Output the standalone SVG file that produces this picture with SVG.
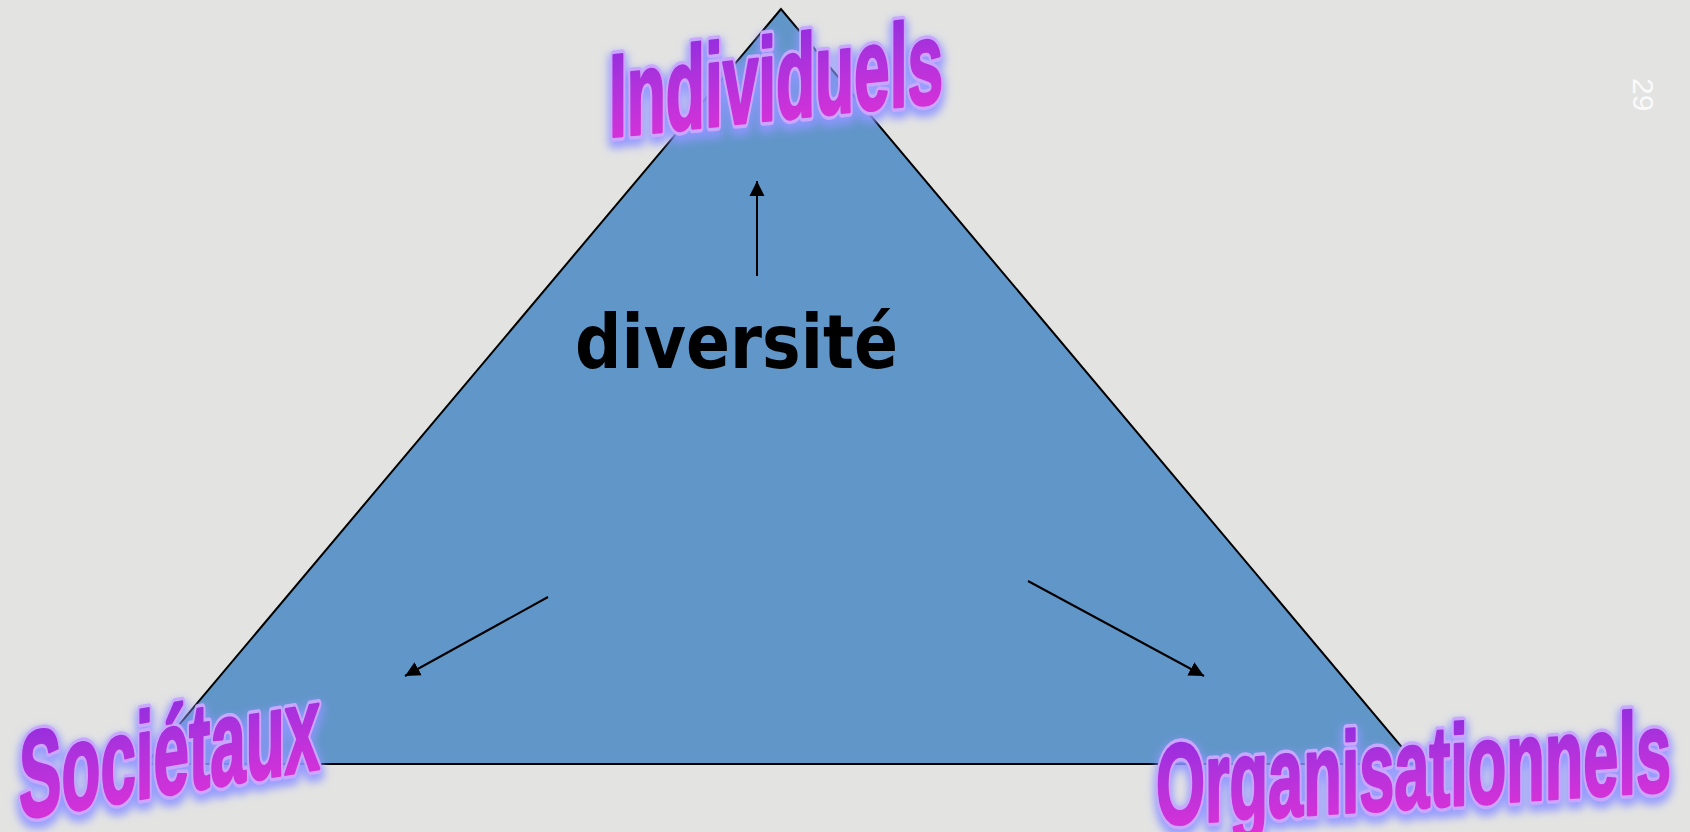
<svg xmlns="http://www.w3.org/2000/svg" width="1690" height="832" viewBox="0 0 1690 832">
<style>
.conn{stroke:#000;stroke-width:2;fill:none;marker-end:url(#ah)}
.wa{font-family:"Liberation Sans",Arial,sans-serif;font-weight:bold;stroke-linejoin:round}
.ol{fill:#c9a6ff;stroke:#c9a6ff;stroke-width:6.5}
.fl{fill:url(#wag);stroke:url(#wag);stroke-width:2}
.lbl{font-family:"DejaVu Sans",Verdana,sans-serif;font-weight:bold;fill:#000}
</style>
<defs>
<marker id="ah" markerUnits="userSpaceOnUse" markerWidth="16" markerHeight="16" viewBox="0 0 16 16" refX="15" refY="8" orient="auto">
<path d="M0,0.5 L15,8 L0,15.5 z" fill="#000"/>
</marker>
<linearGradient id="wag" x1="0" y1="0" x2="0" y2="1">
<stop offset="0" stop-color="#8a2ee0"/>
<stop offset="1" stop-color="#e233d6"/>
</linearGradient>
<filter id="glow" x="-10%" y="-30%" width="120%" height="160%">
<feMorphology in="SourceAlpha" operator="dilate" radius="2" result="d"/>
<feGaussianBlur in="d" stdDeviation="4.5" result="b"/>
<feOffset in="b" dy="5" result="o"/>
<feFlood flood-color="#8f96ff" flood-opacity="0.9"/>
<feComposite in2="o" operator="in" result="g"/>
<feMerge><feMergeNode in="g"/><feMergeNode in="SourceGraphic"/></feMerge>
</filter>
<text id="t-ind" class="wa" transform="translate(609,137) skewY(-6) scale(1,1.55)" x="0" y="0" font-size="76" textLength="334" lengthAdjust="spacingAndGlyphs">Individuels</text>
<text id="t-soc" class="wa" transform="translate(19,819) skewY(-9.5) scale(1,1.55)" x="0" y="0" font-size="79" textLength="301" lengthAdjust="spacingAndGlyphs">Sociétaux</text>
<text id="t-org" class="wa" transform="translate(1156,825) skewY(-3.8) scale(1,1.55)" x="0" y="0" font-size="74" textLength="515" lengthAdjust="spacingAndGlyphs">Organisationnels</text>
</defs>
<rect width="1690" height="832" fill="#e3e3e2"/>
<g id="triangle">
<polygon points="781,9 146,764 1416,764" fill="#6196c9" stroke="#000" stroke-width="2" stroke-linejoin="miter"/>
</g>
<g id="connectors">
<line class="conn" x1="757" y1="276" x2="757" y2="181"/>
<line class="conn" x1="548" y1="597" x2="405" y2="676"/>
<line class="conn" x1="1028" y1="581" x2="1204" y2="676"/>
</g>
<g id="diversite">
<text class="lbl" x="575" y="368" font-size="75" textLength="323" lengthAdjust="spacingAndGlyphs">diversité</text>
</g>
<g id="individuels" filter="url(#glow)">
<use href="#t-ind" class="ol"/>
<use href="#t-ind" class="fl"/>
</g>
<g id="societaux" filter="url(#glow)">
<use href="#t-soc" class="ol"/>
<use href="#t-soc" class="fl"/>
</g>
<g id="organisationnels" filter="url(#glow)">
<use href="#t-org" class="ol"/>
<use href="#t-org" class="fl"/>
</g>
<g id="page-number">
<text transform="translate(1633,78) rotate(90)" x="0" y="0" font-family="Liberation Sans, Arial, sans-serif" font-size="30" fill="#fafafa">29</text>
</g>
</svg>
